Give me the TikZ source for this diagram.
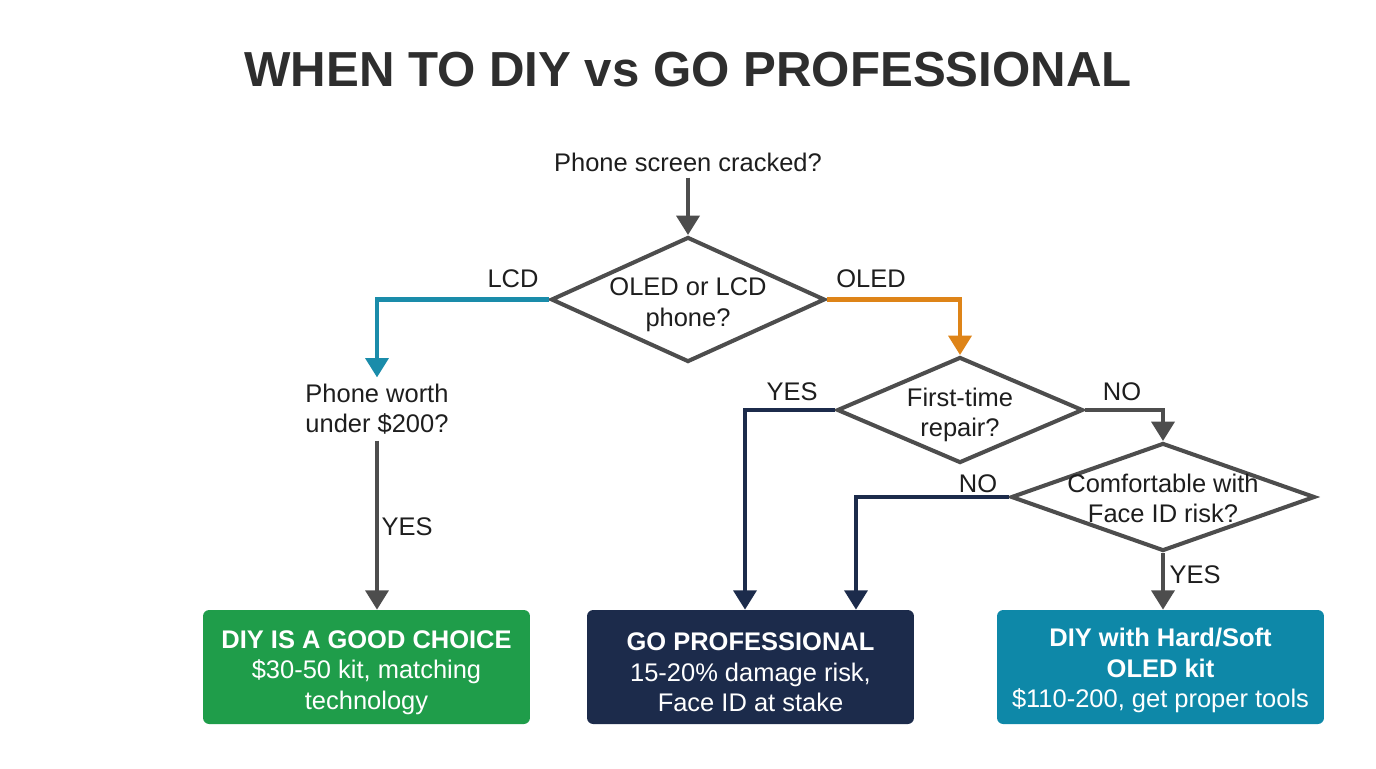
\documentclass[tikz,border=0pt]{standalone}
\usepackage{fontspec}
\setmainfont{Liberation Sans}
\usetikzlibrary{arrows.meta, positioning, shapes.geometric}
\definecolor{ink}       {HTML}{1E1E1E}
\definecolor{headline}  {HTML}{2E2E2E}
\definecolor{flowgray}  {HTML}{4D4D4D}
\definecolor{lcdteal}   {HTML}{1A8CAA}
\definecolor{oledorange}{HTML}{DE8418}
\definecolor{navy}      {HTML}{1C2B4B}
\definecolor{diygreen}  {HTML}{1F9D4A}
\definecolor{kitteal}   {HTML}{0E88A8}

\begin{document}
\begin{tikzpicture}[
    x=0.02cm, y=-0.02cm,
    qtext/.style={text=ink, font=\fontsize{14.5}{17.4}\selectfont, align=center},
    qdiam/.style={diamond, draw=flowgray, line width=2.3pt, fill=white, inner sep=0pt},
    outbox/.style={rounded corners=3.5pt, minimum width=6.54cm, minimum height=2.28cm},
    outtext/.style={text=white, font=\fontsize{14.5}{17.4}\selectfont, align=center,
                    yshift=-0.11cm},
    branch/.style={text=ink, font=\fontsize{14.5}{17.4}\selectfont},
    flow/.style={-{Triangle[length=11pt, width=13pt]}, line width=2.3pt, draw=#1},
    flow/.default=flowgray
  ]
    \useasboundingbox[fill=white] (0,0) rectangle (1376,768);

    \node[font=\bfseries\fontsize{28}{34}\selectfont, text=headline] (ttl) at (688,70)
      {WHEN TO DIY vs GO PROFESSIONAL};

    \node[qtext] (q0) at (688,162) {Phone screen cracked?};
    \node[qdiam, minimum width=5.48cm, minimum height=2.5cm,
          label={[qtext, yshift=-0.11cm]center:OLED or LCD\\phone?}] (d1) at (688,299.5) {};
    \node[qtext] (q1) at (377,409) {Phone worth\\under \$200?};
    \node[qdiam, minimum width=4.92cm, minimum height=2.12cm,
          label={[qtext, yshift=-0.1cm]center:First-time\\repair?}] (d2) at (960,410) {};
    \node[qdiam, minimum width=6.08cm, minimum height=2.16cm,
          label={[qtext, yshift=-0.03cm]center:Comfortable with\\Face ID risk?}] (d3) at (1163,497) {};

    \node[outbox, fill=diygreen,
          label={[outtext]center:\textbf{DIY IS A GOOD CHOICE}\\\$30-50 kit, matching\\technology}]
      (good) at (366.5,667) {};
    \node[outbox, fill=navy,
          label={[outtext]center:\textbf{GO PROFESSIONAL}\\15-20\% damage risk,\\Face ID at stake}]
      (pro) at (750.5,667) {};
    \node[outbox, fill=kitteal,
          label={[outtext, yshift=0.04cm]center:\textbf{DIY with Hard/Soft}\\\textbf{OLED kit}\\\$110-200, get proper tools}]
      (kit) at (1160.5,667) {};

    \draw[flow] (q0) -- (d1);
    \draw[flow=lcdteal] (d1.west) -| (q1.north);
    \draw[flow] (q1.south) -- (q1.south |- good.north);
    \draw[flow=oledorange] (d1.east) -| (d2.north);
    \draw[flow=navy] (d2.west) -| ([xshift=-0.11cm]pro.north);
    \draw[flow] (d2.east) -| (d3.north);
    \draw[flow=navy] (d3.west) -| ([xshift=2.11cm]pro.north);
    \draw[flow] (d3.south) -- (d3.south |- kit.north);

    \node[branch] (lcd)   at (513,279)  {LCD};
    \node[branch] (oled)  at (871,279)  {OLED};
    \node[branch] (yes1)  at (407,527)  {YES};
    \node[branch] (yes2)  at (792,392)  {YES};
    \node[branch] (no1)   at (1122,392) {NO};
    \node[branch] (no2)   at (978,484)  {NO};
    \node[branch] (yes3)  at (1195,575) {YES};
  \end{tikzpicture}
\end{document}
